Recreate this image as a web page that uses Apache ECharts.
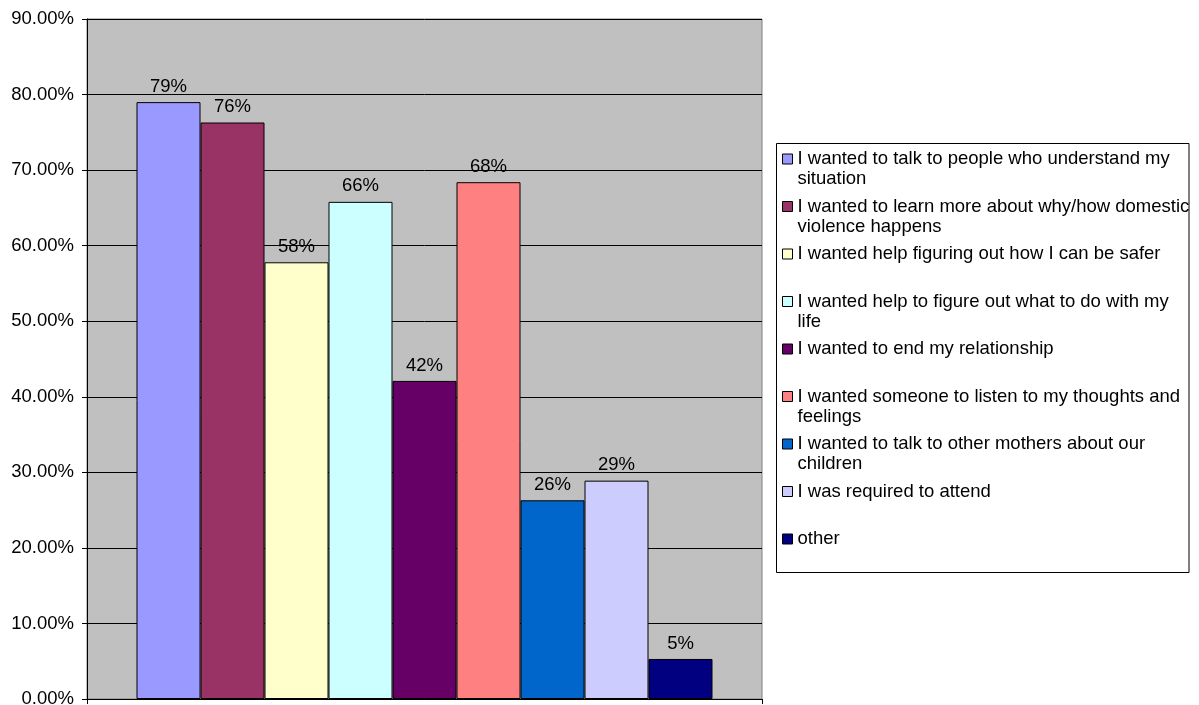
<!DOCTYPE html>
<html>
<head>
<meta charset="utf-8">
<script src="https://cdn.jsdelivr.net/npm/echarts@6/dist/echarts.min.js"></script>
<style>
html,body{margin:0;padding:0;background:#fff;}
#chart{width:1199px;height:705px;}
</style>
</head>
<body>
<div id="chart"></div>
<script>
const categories = [''];
const seriesNames = [
  'I wanted to talk to people who understand my situation',
  'I wanted to learn more about why/how domestic violence happens',
  'I wanted help figuring out how I can be safer',
  'I wanted help to figure out what to do with my life',
  'I wanted to end my relationship',
  'I wanted someone to listen to my thoughts and feelings',
  'I wanted to talk to other mothers about our children',
  'I was required to attend',
  'other'
];
const legendLines = [
  ['I wanted to talk to people who understand my', 'situation'],
  ['I wanted to learn more about why/how domestic', 'violence happens'],
  ['I wanted help figuring out how I can be safer', ' '],
  ['I wanted help to figure out what to do with my', 'life'],
  ['I wanted to end my relationship', ' '],
  ['I wanted someone to listen to my thoughts and', 'feelings'],
  ['I wanted to talk to other mothers about our', 'children'],
  ['I was required to attend', ' '],
  ['other', ' ']
];
const seriesValues = [0.790, 0.763, 0.578, 0.658, 0.421, 0.684, 0.263, 0.289, 0.053];
const seriesColors = ['#9999FF','#993366','#FFFFCC','#CCFFFF','#660066','#FF8080','#0066CC','#CCCCFF','#000080'];
const yTicks = {min: 0, max: 0.9, interval: 0.1};

const FONT = "'Liberation Sans', Arial, sans-serif";
const labelMap = {};
// a blank leading line keeps the first real line centred on the legend swatch
seriesNames.forEach((n, i) => labelMap[n] = ' \n' + legendLines[i][0] + '\n' + legendLines[i][1]);

const chart = echarts.init(document.getElementById('chart'), null, {renderer: 'canvas'});
const option = {
  animation: false,
  backgroundColor: '#ffffff',
  textStyle: {fontFamily: FONT},
  grid: {
    left: 87, right: 437, top: 19, bottom: 6,
    show: true, backgroundColor: '#C0C0C0', borderColor: '#808080', borderWidth: 1,
    containLabel: false,
    outerBoundsMode: 'none'
  },
  graphic: [{
    type: 'rect', z: -1,
    shape: {x: 776.5, y: 143.5, width: 412.5, height: 429},
    style: {fill: '#ffffff', stroke: '#000000', lineWidth: 1}
  }],
  legend: {
    orient: 'vertical',
    left: 782, top: 129,
    padding: 0,
    itemGap: -12.5,
    itemWidth: 10, itemHeight: 10,
    selectedMode: false,
    icon: 'rect',
    itemStyle: {borderColor: '#000000', borderWidth: 1},
    data: seriesNames,
    formatter: name => labelMap[name],
    textStyle: {fontFamily: FONT, fontSize: 18.5, color: '#000', lineHeight: 20}
  },
  xAxis: {
    type: 'category',
    data: categories,
    axisLine: {show: true, lineStyle: {color: '#000', width: 1}},
    axisTick: {show: true, length: 5, lineStyle: {color: '#000'}},
    axisLabel: {show: false},
    splitLine: {show: false}
  },
  yAxis: {
    type: 'value',
    min: yTicks.min, max: yTicks.max, interval: yTicks.interval,
    axisLine: {show: true, lineStyle: {color: '#000', width: 1}},
    axisTick: {show: true, length: 5, lineStyle: {color: '#000'}},
    axisLabel: {
      margin: 13, color: '#000', fontSize: 18.5, fontFamily: FONT,
      formatter: v => (v * 100).toFixed(2) + '%'
    },
    splitLine: {show: true, lineStyle: {color: '#000', width: 1}}
  },
  series: seriesNames.map((name, i) => ({
    name: name,
    type: 'bar',
    data: [seriesValues[i]],
    barWidth: 64,
    barGap: '0%',
    itemStyle: {color: seriesColors[i], borderColor: '#000', borderWidth: 1},
    label: {
      show: true, position: 'top', distance: 6,
      color: '#000', fontSize: 18.5, fontFamily: FONT,
      formatter: p => Math.round(p.value * 100) + '%'
    }
  }))
};
chart.setOption(option);
</script>
</body>
</html>
